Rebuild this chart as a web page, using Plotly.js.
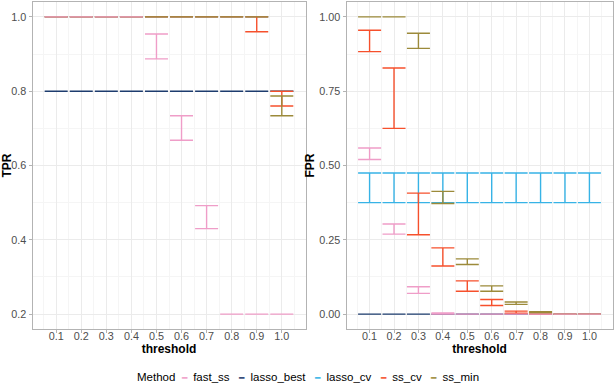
<!DOCTYPE html>
<html>
<head>
<meta charset="utf-8">
<script src="https://cdn.plot.ly/plotly-3.0.1.min.js"></script>
<style>
  html, body { margin: 0; padding: 0; background: #ffffff; }
  #chart { width: 616px; height: 392px; }
</style>
</head>
<body>
<div id="chart"></div>
<script>
var thresholds = [0.1, 0.2, 0.3, 0.4, 0.5, 0.6, 0.7, 0.8, 0.9, 1.0];
var methods = ['fast_ss', 'lasso_best', 'lasso_cv', 'ss_cv', 'ss_min'];
var method_colors = {
    fast_ss: '#ef9dc8',
    lasso_best: '#1d3c6e',
    lasso_cv: '#37b3e6',
    ss_cv: '#f6502c',
    ss_min: '#9c8a3a'
};

// TPR, lower / upper end of each bar
var tpr_fast_ss_min    = [1.0, 1.0, 1.0, 1.0, 0.887, 0.668, 0.430, 0.2, 0.2, 0.2];
var tpr_fast_ss_max    = [1.0, 1.0, 1.0, 1.0, 0.954, 0.734, 0.492, 0.2, 0.2, 0.2];
var tpr_lasso_best_min = [0.8, 0.8, 0.8, 0.8, 0.8, 0.8, 0.8, 0.8, 0.8, 0.8];
var tpr_lasso_best_max = [0.8, 0.8, 0.8, 0.8, 0.8, 0.8, 0.8, 0.8, 0.8, 0.8];
var tpr_lasso_cv_min   = [1.0, 1.0, 1.0, 1.0, 1.0, 1.0, 1.0, 1.0, 1.0, 0.8];
var tpr_lasso_cv_max   = [1.0, 1.0, 1.0, 1.0, 1.0, 1.0, 1.0, 1.0, 1.0, 0.8];
var tpr_ss_cv_min      = [1.0, 1.0, 1.0, 1.0, 1.0, 1.0, 1.0, 1.0, 0.960, 0.760];
var tpr_ss_cv_max      = [1.0, 1.0, 1.0, 1.0, 1.0, 1.0, 1.0, 1.0, 1.0, 0.800];
var tpr_ss_min_min     = [1.0, 1.0, 1.0, 1.0, 1.0, 1.0, 1.0, 1.0, 1.0, 0.734];
var tpr_ss_min_max     = [1.0, 1.0, 1.0, 1.0, 1.0, 1.0, 1.0, 1.0, 1.0, 0.787];

// FPR, lower / upper end of each bar
var fpr_fast_ss_min    = [0.520, 0.269, 0.070, 0.0, 0.0, 0.0, 0.0, 0.0, 0.0, 0.0];
var fpr_fast_ss_max    = [0.559, 0.303, 0.092, 0.004, 0.0, 0.0, 0.0, 0.0, 0.0, 0.0];
var fpr_lasso_best_min = [0, 0, 0, 0, 0, 0, 0, 0, 0, 0];
var fpr_lasso_best_max = [0, 0, 0, 0, 0, 0, 0, 0, 0, 0];
var fpr_lasso_cv_min   = [0.375, 0.375, 0.375, 0.375, 0.375, 0.375, 0.375, 0.375, 0.375, 0.375];
var fpr_lasso_cv_max   = [0.475, 0.475, 0.475, 0.475, 0.475, 0.475, 0.475, 0.475, 0.475, 0.475];
var fpr_ss_cv_min      = [0.883, 0.625, 0.267, 0.162, 0.077, 0.029, 0.003, 0.0, 0.0, 0.0];
var fpr_ss_cv_max      = [0.955, 0.828, 0.407, 0.223, 0.112, 0.049, 0.010, 0.003, 0.0, 0.0];
var fpr_ss_min_min     = [1.0, 1.0, 0.894, 0.372, 0.167, 0.077, 0.033, 0.004, 0.0, 0.0];
var fpr_ss_min_max     = [1.0, 1.0, 0.945, 0.413, 0.186, 0.095, 0.041, 0.008, 0.0, 0.0];

var tpr_data = {
    fast_ss: [tpr_fast_ss_min, tpr_fast_ss_max],
    lasso_best: [tpr_lasso_best_min, tpr_lasso_best_max],
    lasso_cv: [tpr_lasso_cv_min, tpr_lasso_cv_max],
    ss_cv: [tpr_ss_cv_min, tpr_ss_cv_max],
    ss_min: [tpr_ss_min_min, tpr_ss_min_max]
};
var fpr_data = {
    fast_ss: [fpr_fast_ss_min, fpr_fast_ss_max],
    lasso_best: [fpr_lasso_best_min, fpr_lasso_best_max],
    lasso_cv: [fpr_lasso_cv_min, fpr_lasso_cv_max],
    ss_cv: [fpr_ss_cv_min, fpr_ss_cv_max],
    ss_min: [fpr_ss_min_min, fpr_ss_min_max]
};

// fast_ss goes on top, like in the original
var draw_order = ['lasso_best', 'lasso_cv', 'ss_cv', 'ss_min', 'fast_ss'];

function create_errorbar(method, lo, hi, xaxis, yaxis)
{
    return {
        x: thresholds,
        y: lo,
        xaxis: xaxis,
        yaxis: yaxis,
        type: 'scatter',
        mode: 'markers',
        marker: {opacity: 0, size: 1},
        showlegend: false,
        hoverinfo: 'skip',
        error_y: {
            type: 'data',
            symmetric: false,
            array: hi.map(function(v, i) { return v - lo[i]; }),
            arrayminus: lo.map(function() { return 0; }),
            color: method_colors[method],
            thickness: 1.4,
            width: 11.5
        }
    };
}

var traces = [];
draw_order.forEach(function(m) {
    traces.push(create_errorbar(m, tpr_data[m][0], tpr_data[m][1], 'x', 'y'));
});
draw_order.forEach(function(m) {
    traces.push(create_errorbar(m, fpr_data[m][0], fpr_data[m][1], 'x2', 'y2'));
});

// compact ggplot-like legend as one line of text
var sp = '\u00a0';
var legend_text = 'Method' + sp + sp;
methods.forEach(function(m, i) {
    legend_text += '<span style="color:' + method_colors[m] + ';font-size:9px">\u2501</span>' + sp + sp + m;
    if (i < methods.length - 1) legend_text += sp + sp + sp;
});

var grid_major = '#ebebeb';
var grid_minor = '#f5f5f5';
var border = '#b3b3b3';
var font_family = 'Liberation Sans, Arial, sans-serif';
var tick_font = {family: font_family, size: 10.8, color: '#4d4d4d'};
var title_font = {family: font_family, size: 12, color: '#000000', weight: 'bold'};

function x_axis(domain, anchor)
{
    return {
        domain: domain,
        anchor: anchor,
        range: [0.0055, 1.0945],
        tickvals: thresholds,
        tickformat: '.1f',
        ticks: 'outside',
        ticklen: 3,
        tickcolor: border,
        tickfont: tick_font,
        ticklabelstandoff: -6,
        showgrid: true,
        gridcolor: grid_major,
        gridwidth: 1,
        minor: {tick0: 0.05, dtick: 0.1, showgrid: true, gridcolor: grid_minor, gridwidth: 1},
        zeroline: false,
        showline: true,
        mirror: true,
        linecolor: border,
        linewidth: 1,
        title: {text: 'threshold', font: title_font, standoff: 0}
    };
}

function y_axis(domain, anchor, range, dtick, fmt, title)
{
    return {
        domain: domain,
        anchor: anchor,
        range: range,
        tick0: 0,
        dtick: dtick,
        tickformat: fmt,
        ticks: 'outside',
        ticklen: 3,
        tickcolor: border,
        tickfont: tick_font,
        showgrid: true,
        gridcolor: grid_major,
        gridwidth: 1,
        minor: {tick0: 0, dtick: dtick / 2, showgrid: true, gridcolor: grid_minor, gridwidth: 1},
        zeroline: false,
        showline: true,
        mirror: true,
        linecolor: border,
        linewidth: 1,
        title: {text: title, font: title_font, standoff: 2}
    };
}

var y_domain = [1 - 329 / 392, 1 - 2 / 392];

var layout = {
    width: 616,
    height: 392,
    margin: {l: 0, r: 0, t: 0, b: 0},
    paper_bgcolor: '#ffffff',
    plot_bgcolor: '#ffffff',
    font: {family: font_family, size: 11, color: '#000000'},
    xaxis: x_axis([32.5 / 616, 305.5 / 616], 'y'),
    yaxis: y_axis(y_domain, 'x', [0.16, 1.04], 0.2, '.1f', 'TPR'),
    xaxis2: x_axis([346.5 / 616, 612.5 / 616], 'y2'),
    yaxis2: y_axis(y_domain, 'x2', [-0.05, 1.05], 0.25, '.2f', 'FPR'),
    showlegend: false,
    annotations: [{
        text: legend_text,
        xref: 'paper',
        yref: 'paper',
        x: 0.5,
        y: 1 - 377 / 392,
        xanchor: 'center',
        yanchor: 'middle',
        showarrow: false,
        font: {family: font_family, size: 11.5, color: '#000000'}
    }]
};

Plotly.newPlot('chart', traces, layout, {displayModeBar: false, staticPlot: true});
</script>
</body>
</html>
